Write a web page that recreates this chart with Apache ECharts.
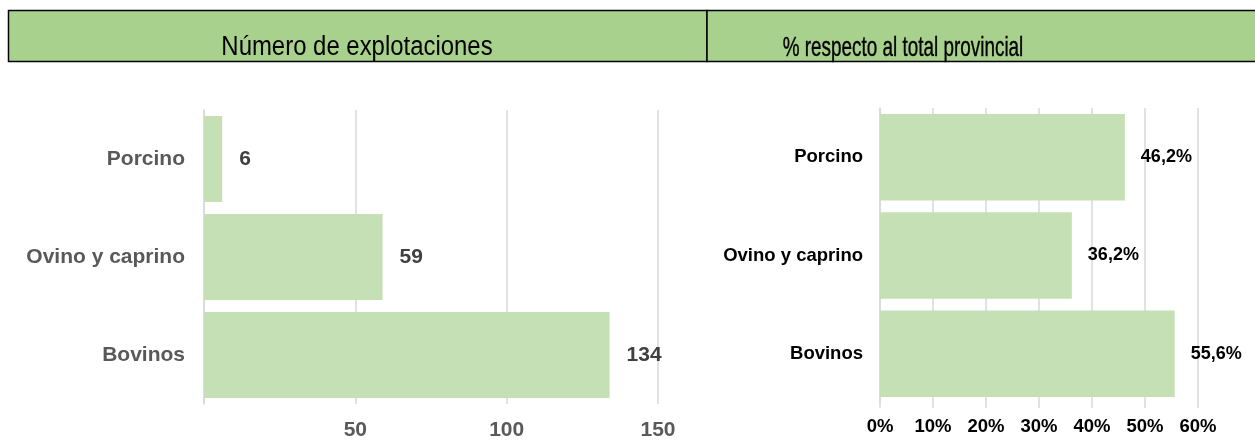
<!DOCTYPE html>
<html>
<head>
  <meta charset="utf-8">
  <title>Explotaciones</title>
  <style>
    body { margin: 0; background: #fff; }
    #chart { width: 1255px; height: 442px; }
  </style>
  <script src="https://cdn.jsdelivr.net/npm/echarts@6/dist/echarts.min.js"></script>
</head>
<body>
  <div id="chart"></div>
  <script>
    // datos
    var categorias = ['Porcino', 'Ovino y caprino', 'Bovinos'];
    var explotaciones = [6, 59, 134];
    var porcentaje = [46.2, 36.2, 55.6];
    var titulos = ['Número de explotaciones', '% respecto al total provincial'];

    var verde = '#c5e0b4';
    var rejilla = '#d9d9d9';
    var arial = 'Arial, "Liberation Sans", sans-serif';

    var chart = echarts.init(document.getElementById('chart'));

    var option = {
      animation: false,
      graphic: [
        { type: 'rect', shape: { x: 8.5, y: 10.5, width: 698.5, height: 51 },
          style: { fill: '#a9d18e', stroke: '#000', lineWidth: 1.5 } },
        { type: 'rect', shape: { x: 707, y: 10.5, width: 560, height: 51 },
          style: { fill: '#a9d18e', stroke: '#000', lineWidth: 1.5 } },
        // el original usa una fuente estrecha: se comprime en horizontal
        { type: 'text', x: 357, y: 48, scaleX: 0.886,
          style: { text: titulos[0], fill: '#000', font: '27px ' + arial, textAlign: 'center', textVerticalAlign: 'middle' } },
        { type: 'text', x: 903, y: 48, scaleX: 0.675,
          style: { text: titulos[1], fill: '#000', font: '28px ' + arial, textAlign: 'center', textVerticalAlign: 'middle',
                   stroke: '#000', lineWidth: 0.4 } }
      ],
      grid: [
        { left: 204, top: 110, width: 454, height: 294 },
        { left: 880, top: 108, width: 318, height: 295 }
      ],
      xAxis: [
        {
          gridIndex: 0, type: 'value', min: 0, max: 150, interval: 50,
          axisLine: { show: false }, axisTick: { show: false },
          splitLine: { lineStyle: { color: rejilla, width: 1.5 } },
          axisLabel: {
            margin: 16, color: '#595959', fontSize: 21, fontWeight: 'bold', fontFamily: arial,
            formatter: function (v) { return v === 0 ? '' : v; }
          }
        },
        {
          gridIndex: 1, type: 'value', min: 0, max: 60, interval: 10,
          axisLine: { show: false },
          axisTick: { show: true, length: 5, lineStyle: { color: rejilla, width: 1.5 } },
          splitLine: { lineStyle: { color: rejilla, width: 1.5 } },
          axisLabel: {
            margin: 14, color: '#000', fontSize: 18.5, fontWeight: 'bold', fontFamily: arial,
            formatter: '{value}%'
          }
        }
      ],
      yAxis: [
        {
          gridIndex: 0, type: 'category', data: categorias, inverse: true,
          axisLine: { show: true, lineStyle: { color: rejilla, width: 1.5 } },
          axisTick: { show: false },
          axisLabel: { margin: 19, color: '#595959', fontSize: 21, fontWeight: 'bold', fontFamily: arial }
        },
        {
          gridIndex: 1, type: 'category', data: categorias, inverse: true,
          axisLine: { show: true, lineStyle: { color: rejilla, width: 1.5 } },
          axisTick: { show: false },
          axisLabel: { margin: 17, color: '#000', fontSize: 18.5, fontWeight: 'bold', fontFamily: arial }
        }
      ],
      series: [
        {
          type: 'bar', xAxisIndex: 0, yAxisIndex: 0, data: explotaciones,
          barCategoryGap: '12%', itemStyle: { color: verde },
          label: {
            show: true, position: 'right', distance: 17,
            color: '#404040', fontSize: 21, fontWeight: 'bold', fontFamily: arial
          }
        },
        {
          type: 'bar', xAxisIndex: 1, yAxisIndex: 1, data: porcentaje,
          barCategoryGap: '12%', itemStyle: { color: verde },
          label: {
            show: true, position: 'right', distance: 16,
            color: '#000', fontSize: 18, fontWeight: 'bold', fontFamily: arial,
            formatter: function (p) { return p.value.toFixed(1).replace('.', ',') + '%'; }
          }
        }
      ]
    };

    chart.setOption(option);
  </script>
</body>
</html>
